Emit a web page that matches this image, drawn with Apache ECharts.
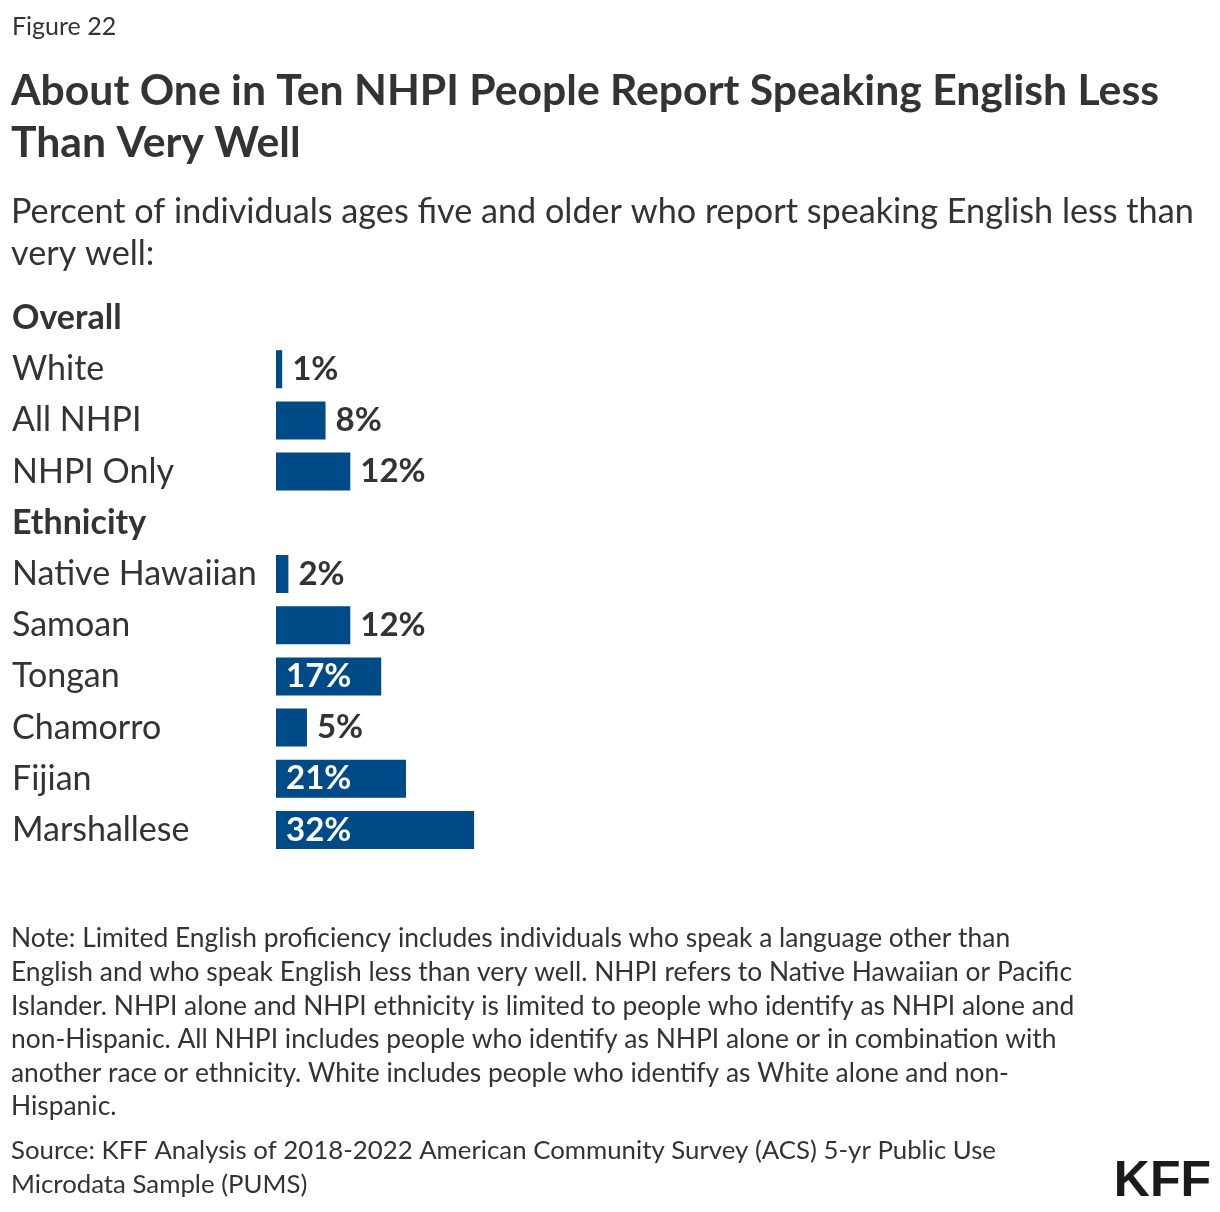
<!DOCTYPE html>
<html>
<head>
<meta charset="utf-8">
<script src="https://cdn.jsdelivr.net/npm/echarts@6/dist/echarts.min.js"></script>
<style>
  html, body { margin: 0; padding: 0; background: #fff; }
  #chart { width: 1220px; height: 1212px; }
</style>
</head>
<body>
<div id="chart"></div>
<script>
// rows, in order from top; headers have no value
const categories = ["Overall", "White", "All NHPI", "NHPI Only", "Ethnicity",
  "Native Hawaiian", "Samoan", "Tongan", "Chamorro", "Fijian", "Marshallese"];
const headers = ["Overall", "Ethnicity"];
const values = [null, 1, 8, 12, null, 2, 12, 17, 5, 21, 32];

const FONT = "Lato";
const TEXT = "#333333";
const BLUE = "#004B87";

let myChart = echarts.init(document.getElementById("chart"));

const barData = values.map(v => {
  if (v == null) return { value: null };
  const inside = v >= 17;
  return {
    value: v,
    label: {
      show: true,
      position: inside ? "insideLeft" : "right",
      distance: 10,
      color: inside ? "#ffffff" : TEXT
    }
  };
});

myChart.setOption({
  animation: false,
  textStyle: { fontFamily: FONT },
  title: [
    {
      text: "Figure 22",
      left: 12, top: 14, padding: 0,
      textStyle: { fontFamily: FONT, fontSize: 25, fontWeight: "normal", color: TEXT, lineHeight: 26 }
    },
    {
      text: "About One in Ten NHPI People Report Speaking English Less\nThan Very Well",
      left: 11, top: 65, padding: 0,
      textStyle: { fontFamily: FONT, fontSize: 42.7, fontWeight: "bold", color: TEXT, lineHeight: 52 }
    },
    {
      text: "Percent of individuals ages five and older who report speaking English less than\nvery well:",
      left: 11, top: 191, padding: 0,
      textStyle: { fontFamily: FONT, fontSize: 34.2, fontWeight: "normal", color: TEXT, lineHeight: 42 }
    },
    {
      text: "Note: Limited English proficiency includes individuals who speak a language other than\n" +
        "English and who speak English less than very well. NHPI refers to Native Hawaiian or Pacific\n" +
        "Islander. NHPI alone and NHPI ethnicity is limited to people who identify as NHPI alone and\n" +
        "non-Hispanic. All NHPI includes people who identify as NHPI alone or in combination with\n" +
        "another race or ethnicity. White includes people who identify as White alone and non-\n" +
        "Hispanic.",
      left: 11, top: 922, padding: 0,
      textStyle: { fontFamily: FONT, fontSize: 26.4, fontWeight: "normal", color: TEXT, lineHeight: 33.6 }
    },
    {
      text: "Source: KFF Analysis of 2018-2022 American Community Survey (ACS) 5-yr Public Use\nMicrodata Sample (PUMS)",
      left: 11, top: 1134, padding: 0,
      textStyle: { fontFamily: FONT, fontSize: 25.8, fontWeight: "normal", color: TEXT, lineHeight: 33.6 }
    },
    {
      text: "KFF",
      right: 4, top: 1152,
      textStyle: { fontFamily: "Liberation Sans", fontSize: 50, fontWeight: 900, color: "#1a1a1a" }
    }
  ],
  grid: { left: 276, top: 292.4, width: 619, height: 563.2 },
  xAxis: {
    type: "value",
    min: 0, max: 100,
    show: false
  },
  yAxis: {
    type: "category",
    inverse: true,
    data: categories,
    axisLine: { show: false },
    axisTick: { show: false },
    axisLabel: {
      align: "left",
      margin: 264,
      fontFamily: FONT,
      fontSize: 34,
      color: TEXT,
      formatter: v => headers.includes(v) ? "{h|" + v + "}" : v,
      rich: {
        h: { fontFamily: FONT, fontSize: 34, fontWeight: "bold", color: TEXT }
      }
    }
  },
  series: [{
    type: "bar",
    barWidth: 38,
    data: barData,
    itemStyle: { color: BLUE },
    label: {
      fontFamily: FONT,
      fontSize: 33,
      fontWeight: "bold",
      formatter: p => p.value + "%"
    }
  }]
});
</script>
</body>
</html>
